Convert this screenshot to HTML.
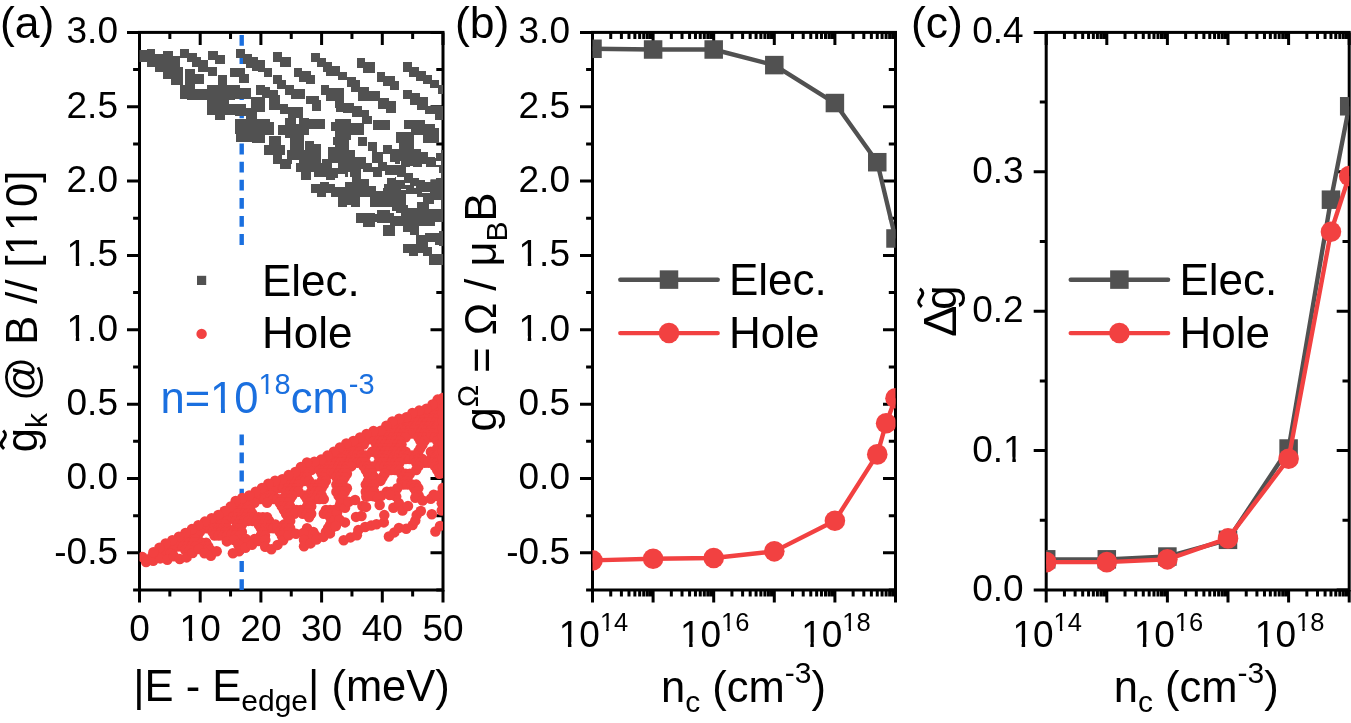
<!DOCTYPE html>
<html><head><meta charset="utf-8"><style>
html,body{margin:0;padding:0;background:#fff;}
body{width:1351px;height:723px;overflow:hidden;}
svg{display:block;will-change:transform;}
svg text{font-family:"Liberation Sans",sans-serif;font-kerning:none;font-variant-ligatures:none;}
</style></head><body>
<svg width="1351" height="723" viewBox="0 0 1351 723">
<rect width="1351" height="723" fill="#fff"/>
<defs><clipPath id="ca"><rect x="139.5" y="32.4" width="303.5" height="557.6"/></clipPath><clipPath id="cb"><rect x="592.5" y="32.4" width="303.0" height="557.6"/></clipPath><clipPath id="cc"><rect x="1046.2" y="32.4" width="303.0" height="557.6"/></clipPath></defs>
<path d="M127.00 32.40H139.50 M443.00 32.40H430.50 M127.00 106.75H139.50 M443.00 106.75H430.50 M127.00 181.09H139.50 M443.00 181.09H430.50 M127.00 255.44H139.50 M443.00 255.44H430.50 M127.00 329.79H139.50 M443.00 329.79H430.50 M127.00 404.13H139.50 M443.00 404.13H430.50 M127.00 478.48H139.50 M443.00 478.48H430.50 M127.00 552.83H139.50 M443.00 552.83H430.50 M133.10 69.57H139.50 M443.00 69.57H436.30 M133.10 143.92H139.50 M443.00 143.92H436.30 M133.10 218.27H139.50 M443.00 218.27H436.30 M133.10 292.61H139.50 M443.00 292.61H436.30 M133.10 366.96H139.50 M443.00 366.96H436.30 M133.10 441.31H139.50 M443.00 441.31H436.30 M133.10 515.65H139.50 M443.00 515.65H436.30 M133.10 590.00H139.50 M443.00 590.00H436.30 M139.50 602.50V590.00 M139.50 32.40V44.90 M200.20 602.50V590.00 M200.20 32.40V44.90 M260.90 602.50V590.00 M260.90 32.40V44.90 M321.60 602.50V590.00 M321.60 32.40V44.90 M382.30 602.50V590.00 M382.30 32.40V44.90 M443.00 602.50V590.00 M443.00 32.40V44.90 M169.85 596.40V590.00 M169.85 32.40V39.10 M230.55 596.40V590.00 M230.55 32.40V39.10 M291.25 596.40V590.00 M291.25 32.40V39.10 M351.95 596.40V590.00 M351.95 32.40V39.10 M412.65 596.40V590.00 M412.65 32.40V39.10" stroke="#000" stroke-width="3" fill="none"/>
<rect x="139.50" y="32.40" width="303.50" height="557.60" stroke="#000" stroke-width="3" fill="none"/>
<g clip-path="url(#ca)">
<path d="M241.7 35V246" stroke="#1a6fdf" stroke-width="4.4" stroke-dasharray="10.8 7.3"/>
<path d="M241.7 434.4V592" stroke="#1a6fdf" stroke-width="4.4" stroke-dasharray="10.8 7.3"/>
<g shape-rendering="crispEdges"><mask id="me0" maskUnits="userSpaceOnUse" x="0" y="0" width="1351" height="723"><rect width="1351" height="723" fill="#fff"/><g fill="#000"><rect x="194.8" y="84.4" width="12.4" height="5.0"/></g></mask>
<g fill="#515151" mask="url(#me0)"><rect x="139.6" y="49.9" width="7.1" height="12.4"/><rect x="138.3" y="50.4" width="8.3" height="12.0"/><rect x="146.6" y="49.1" width="8.7" height="17.8"/><rect x="155.3" y="53.7" width="7.9" height="18.7"/><rect x="163.2" y="51.2" width="9.5" height="28.2"/><rect x="172.8" y="56.2" width="7.1" height="10.4"/><rect x="170.7" y="66.5" width="12.0" height="18.3"/><rect x="180.2" y="84.8" width="54.8" height="10.2"/><rect x="180.2" y="49.1" width="9.1" height="9.0"/><rect x="187.3" y="53.4" width="9.5" height="9.0"/><rect x="192.3" y="57.4" width="9.1" height="9.5"/><rect x="198.1" y="59.9" width="10.0" height="11.6"/><rect x="208.0" y="67.4" width="8.7" height="8.7"/><rect x="184.8" y="69.0" width="10.0" height="15.8"/><rect x="194.8" y="74.0" width="9.1" height="9.5"/><rect x="208.0" y="50.8" width="10.0" height="9.1"/><rect x="214.7" y="54.9" width="10.0" height="9.5"/><rect x="218.0" y="75.2" width="9.1" height="9.5"/><rect x="229.6" y="67.8" width="5.4" height="8.7"/></g>
<g fill="#515151"><rect x="236.0" y="49.3" width="9.0" height="8.5"/><rect x="242.9" y="54.1" width="8.7" height="9.5"/><rect x="245.8" y="57.0" width="12.0" height="11.2"/><rect x="251.6" y="59.5" width="13.3" height="11.2"/><rect x="258.2" y="63.6" width="6.6" height="8.7"/><rect x="263.6" y="68.2" width="8.3" height="8.7"/><rect x="272.8" y="52.0" width="9.1" height="9.5"/><rect x="279.8" y="57.0" width="10.8" height="9.5"/><rect x="311.3" y="53.1" width="8.3" height="8.9"/><rect x="317.2" y="58.2" width="9.1" height="9.1"/><rect x="323.0" y="62.4" width="9.1" height="10.0"/><rect x="326.3" y="65.7" width="8.7" height="10.4"/><rect x="235.0" y="67.8" width="10.0" height="8.7"/><rect x="238.7" y="74.0" width="10.4" height="8.7"/><rect x="272.8" y="75.2" width="9.1" height="8.7"/><rect x="276.5" y="79.8" width="9.5" height="9.1"/><rect x="284.8" y="85.2" width="8.7" height="9.8"/><rect x="293.1" y="89.4" width="12.0" height="5.6"/><rect x="293.5" y="68.2" width="8.7" height="8.3"/><rect x="299.3" y="70.7" width="11.2" height="10.8"/><rect x="306.4" y="75.2" width="8.7" height="8.7"/><rect x="320.5" y="85.2" width="8.7" height="9.8"/><rect x="328.8" y="88.1" width="6.2" height="6.9"/><rect x="235.0" y="85.2" width="5.0" height="9.8"/><rect x="240.0" y="88.1" width="10.8" height="6.9"/><rect x="256.2" y="85.2" width="8.7" height="9.8"/><rect x="264.9" y="86.9" width="5.0" height="8.1"/><rect x="269.9" y="90.2" width="8.3" height="4.8"/></g>
<g fill="#515151"><rect x="356.5" y="58.3" width="8.7" height="9.6"/><rect x="363.3" y="62.4" width="11.4" height="10.5"/><rect x="376.5" y="72.4" width="8.7" height="9.1"/><rect x="382.9" y="76.1" width="11.9" height="10.0"/><rect x="389.8" y="80.6" width="9.6" height="8.9"/><rect x="402.7" y="62.4" width="8.9" height="9.1"/><rect x="409.4" y="66.5" width="9.1" height="10.5"/><rect x="415.8" y="70.6" width="10.5" height="10.5"/><rect x="423.1" y="75.2" width="8.7" height="9.1"/><rect x="429.5" y="79.7" width="9.1" height="8.7"/><rect x="438.2" y="85.2" width="4.6" height="9.1"/><rect x="335.0" y="65.6" width="5.0" height="10.5"/><rect x="338.2" y="71.5" width="8.7" height="8.7"/><rect x="346.9" y="77.4" width="9.1" height="10.0"/><rect x="351.0" y="80.2" width="9.1" height="11.4"/><rect x="358.3" y="87.0" width="10.5" height="8.7"/><rect x="366.5" y="91.1" width="13.2" height="9.9"/><rect x="379.7" y="98.0" width="9.1" height="3.0"/><rect x="335.0" y="88.4" width="9.1" height="12.6"/><rect x="403.3" y="89.6" width="8.4" height="9.3"/><rect x="409.9" y="93.4" width="9.6" height="7.6"/><rect x="419.4" y="97.1" width="8.2" height="3.9"/></g>
<mask id="me3" maskUnits="userSpaceOnUse" x="0" y="0" width="1351" height="723"><rect width="1351" height="723" fill="#fff"/><g fill="#000"><rect x="228.8" y="100.0" width="6.2" height="3.7"/></g></mask>
<g fill="#515151" mask="url(#me3)"><rect x="180.2" y="95.0" width="54.8" height="4.1"/><rect x="187.3" y="95.0" width="19.9" height="5.0"/><rect x="207.2" y="95.0" width="27.8" height="19.9"/><rect x="214.7" y="114.9" width="10.4" height="4.6"/></g>
<mask id="me4" maskUnits="userSpaceOnUse" x="0" y="0" width="1351" height="723"><rect width="1351" height="723" fill="#fff"/><g fill="#000"><rect x="296.4" y="117.8" width="2.5" height="6.2"/><rect x="274.0" y="129.9" width="4.1" height="5.8"/></g></mask>
<g fill="#515151" mask="url(#me4)"><rect x="235.0" y="95.0" width="15.8" height="3.7"/><rect x="261.6" y="95.0" width="8.3" height="2.9"/><rect x="269.0" y="95.0" width="11.2" height="14.9"/><rect x="280.2" y="104.1" width="7.9" height="10.0"/><rect x="288.1" y="106.6" width="14.5" height="13.3"/><rect x="291.4" y="95.0" width="13.3" height="3.7"/><rect x="305.5" y="96.2" width="13.3" height="7.9"/><rect x="312.2" y="100.0" width="8.3" height="10.8"/><rect x="326.3" y="95.0" width="8.7" height="5.8"/><rect x="235.0" y="104.1" width="10.8" height="11.6"/><rect x="250.8" y="97.1" width="13.7" height="14.5"/><rect x="245.8" y="107.9" width="11.6" height="11.2"/><rect x="235.0" y="119.1" width="34.9" height="14.9"/><rect x="235.8" y="132.3" width="15.8" height="10.0"/><rect x="251.6" y="134.0" width="13.3" height="8.7"/><rect x="257.8" y="122.4" width="16.2" height="12.4"/><rect x="284.8" y="118.2" width="24.1" height="16.6"/><rect x="278.2" y="124.9" width="6.6" height="10.0"/><rect x="308.0" y="119.1" width="17.0" height="10.0"/><rect x="284.8" y="134.8" width="19.1" height="3.3"/><rect x="290.2" y="138.2" width="13.7" height="14.1"/><rect x="269.0" y="135.7" width="11.6" height="9.1"/><rect x="263.6" y="144.8" width="21.2" height="10.2"/><rect x="287.3" y="149.8" width="17.4" height="5.2"/><rect x="304.7" y="140.6" width="9.1" height="14.4"/><rect x="313.8" y="143.5" width="7.1" height="11.5"/><rect x="331.3" y="122.0" width="3.7" height="8.7"/><rect x="332.9" y="136.5" width="2.1" height="8.3"/><rect x="327.9" y="146.5" width="7.1" height="8.5"/></g>
<g fill="#515151"><rect x="335.0" y="95.0" width="9.1" height="12.8"/><rect x="335.9" y="103.2" width="18.3" height="9.1"/><rect x="343.2" y="106.4" width="19.2" height="6.8"/><rect x="351.9" y="109.6" width="16.9" height="7.8"/><rect x="362.4" y="115.5" width="9.6" height="8.2"/><rect x="358.3" y="95.0" width="21.5" height="6.4"/><rect x="377.9" y="99.1" width="11.0" height="9.6"/><rect x="386.1" y="101.4" width="9.6" height="11.4"/><rect x="372.9" y="120.1" width="16.9" height="9.6"/><rect x="403.0" y="95.0" width="16.0" height="3.7"/><rect x="409.9" y="96.8" width="17.8" height="8.2"/><rect x="417.2" y="104.1" width="11.0" height="5.5"/><rect x="425.4" y="106.0" width="17.3" height="8.2"/><rect x="435.4" y="109.6" width="7.3" height="10.0"/><rect x="403.9" y="119.6" width="21.5" height="9.1"/><rect x="410.8" y="124.2" width="23.7" height="11.0"/><rect x="422.6" y="127.9" width="16.4" height="14.6"/><rect x="430.9" y="134.3" width="8.2" height="9.1"/><rect x="335.0" y="118.7" width="16.4" height="21.0"/><rect x="351.4" y="123.3" width="12.8" height="11.4"/><rect x="335.0" y="139.7" width="13.7" height="10.0"/><rect x="335.0" y="149.8" width="19.6" height="11.2"/><rect x="354.6" y="157.1" width="11.4" height="3.9"/><rect x="358.3" y="137.0" width="8.2" height="8.7"/><rect x="368.3" y="142.0" width="8.5" height="8.7"/><rect x="372.4" y="152.1" width="9.6" height="8.9"/><rect x="396.2" y="132.4" width="17.8" height="10.5"/><rect x="399.4" y="142.9" width="14.6" height="6.8"/><rect x="383.4" y="144.8" width="8.7" height="8.7"/><rect x="390.7" y="148.9" width="30.1" height="12.1"/><rect x="420.8" y="151.6" width="6.8" height="9.4"/><rect x="427.7" y="157.1" width="6.8" height="3.9"/><rect x="436.3" y="152.5" width="6.4" height="8.5"/></g>
<mask id="me6" maskUnits="userSpaceOnUse" x="0" y="0" width="1351" height="723"><rect width="1351" height="723" fill="#fff"/><g fill="#000"><rect x="281.5" y="155.0" width="5.8" height="3.7"/><rect x="292.3" y="160.0" width="6.6" height="3.3"/><rect x="321.3" y="155.0" width="6.6" height="4.1"/><rect x="332.1" y="162.9" width="2.9" height="5.0"/></g></mask>
<g fill="#515151" mask="url(#me6)"><rect x="272.8" y="155.0" width="18.7" height="9.1"/><rect x="279.8" y="160.0" width="10.8" height="8.7"/><rect x="286.5" y="155.0" width="34.9" height="5.0"/><rect x="296.4" y="160.0" width="24.9" height="12.4"/><rect x="300.6" y="172.4" width="10.4" height="7.5"/><rect x="314.3" y="167.4" width="20.7" height="9.1"/><rect x="314.3" y="162.5" width="20.7" height="5.8"/><rect x="322.1" y="159.1" width="12.9" height="3.7"/><rect x="326.3" y="176.6" width="8.7" height="2.9"/><rect x="327.9" y="155.0" width="7.1" height="4.1"/><rect x="310.9" y="183.6" width="24.1" height="9.1"/><rect x="317.2" y="192.8" width="9.1" height="4.1"/><rect x="331.3" y="192.8" width="3.7" height="4.1"/><rect x="319.6" y="182.0" width="9.1" height="1.7"/></g>
<mask id="me7" maskUnits="userSpaceOnUse" x="0" y="0" width="1351" height="723"><rect width="1351" height="723" fill="#fff"/><g fill="#000"><rect x="345.0" y="150.0" width="9.3" height="1.2"/><rect x="354.3" y="150.0" width="13.7" height="6.8"/><rect x="364.3" y="156.2" width="8.1" height="3.1"/><rect x="366.1" y="159.3" width="6.2" height="3.4"/><rect x="368.0" y="150.6" width="4.4" height="5.6"/><rect x="376.7" y="150.0" width="6.2" height="2.2"/><rect x="382.9" y="153.7" width="7.5" height="8.7"/><rect x="387.3" y="162.1" width="7.5" height="3.1"/><rect x="372.3" y="162.8" width="5.6" height="4.4"/><rect x="335.0" y="163.1" width="2.8" height="5.0"/><rect x="335.0" y="178.3" width="10.3" height="8.4"/><rect x="337.8" y="174.0" width="7.5" height="4.4"/><rect x="345.3" y="176.8" width="6.5" height="5.3"/><rect x="348.1" y="172.1" width="1.9" height="4.7"/><rect x="361.1" y="168.7" width="2.2" height="10.6"/><rect x="363.3" y="172.1" width="9.6" height="7.2"/><rect x="373.0" y="176.8" width="14.3" height="6.8"/><rect x="368.6" y="179.3" width="7.5" height="6.8"/><rect x="376.1" y="183.6" width="7.5" height="6.8"/><rect x="381.7" y="171.2" width="3.7" height="6.2"/><rect x="384.8" y="174.9" width="10.2" height="3.1"/></g></mask>
<g fill="#515151" mask="url(#me7)"><rect x="335.0" y="150.0" width="60.0" height="38.0"/></g>
<mask id="me8" maskUnits="userSpaceOnUse" x="0" y="0" width="1351" height="723"><rect width="1351" height="723" fill="#fff"/><g fill="#000"><rect x="415.0" y="150.0" width="5.8" height="0.9"/><rect x="420.8" y="150.0" width="7.0" height="4.4"/><rect x="427.8" y="150.0" width="8.1" height="8.1"/><rect x="435.9" y="150.0" width="5.2" height="2.6"/><rect x="390.0" y="163.8" width="11.0" height="1.4"/><rect x="400.0" y="160.2" width="1.3" height="5.1"/><rect x="409.8" y="166.3" width="3.2" height="3.5"/><rect x="422.0" y="163.9" width="3.5" height="3.5"/><rect x="406.3" y="167.4" width="32.5" height="5.8"/><rect x="412.7" y="173.2" width="27.9" height="5.2"/><rect x="419.3" y="177.3" width="17.1" height="2.9"/><rect x="425.4" y="179.0" width="5.2" height="2.9"/><rect x="435.9" y="161.3" width="5.2" height="3.5"/><rect x="390.0" y="175.0" width="7.0" height="2.3"/><rect x="396.4" y="177.3" width="7.6" height="2.3"/><rect x="405.1" y="182.8" width="5.2" height="2.0"/><rect x="414.4" y="186.0" width="2.0" height="2.3"/></g></mask>
<g fill="#515151" mask="url(#me8)"><rect x="395.0" y="150.0" width="51.0" height="38.0"/></g>
<mask id="me9" maskUnits="userSpaceOnUse" x="0" y="0" width="1351" height="723"><rect width="1351" height="723" fill="#fff"/><g fill="#000"><rect x="376.1" y="188.0" width="6.6" height="2.5"/><rect x="400.7" y="188.8" width="4.9" height="1.6"/><rect x="406.1" y="193.8" width="11.1" height="14.0"/><rect x="417.2" y="197.0" width="5.3" height="5.3"/><rect x="346.5" y="204.8" width="4.5" height="2.5"/><rect x="433.6" y="199.5" width="7.4" height="9.9"/><rect x="428.7" y="204.4" width="4.9" height="4.1"/><rect x="422.1" y="191.7" width="8.2" height="1.6"/></g></mask>
<g fill="#515151" mask="url(#me9)"><rect x="335.0" y="188.0" width="107.6" height="9.0"/><rect x="337.9" y="197.0" width="21.8" height="10.3"/><rect x="369.5" y="196.2" width="36.6" height="10.7"/><rect x="376.5" y="209.5" width="11.9" height="3.5"/><rect x="395.8" y="206.9" width="46.8" height="6.1"/><rect x="417.2" y="202.4" width="25.5" height="4.5"/><rect x="422.5" y="197.0" width="20.1" height="5.3"/></g>
<mask id="me10" maskUnits="userSpaceOnUse" x="0" y="0" width="1351" height="723"><rect width="1351" height="723" fill="#fff"/><g fill="#000"><rect x="346.8" y="205.0" width="4.1" height="2.5"/></g></mask>
<g fill="#515151" mask="url(#me10)"><rect x="338.1" y="200.0" width="22.0" height="7.1"/><rect x="372.1" y="200.0" width="2.9" height="7.1"/><rect x="356.3" y="213.3" width="9.1" height="9.5"/><rect x="363.0" y="215.8" width="12.0" height="10.8"/><rect x="371.3" y="213.3" width="3.7" height="3.3"/></g>
<mask id="me11" maskUnits="userSpaceOnUse" x="0" y="0" width="1351" height="723"><rect width="1351" height="723" fill="#fff"/><g fill="#000"><rect x="419.4" y="226.0" width="5.9" height="9.1"/><rect x="428.1" y="241.5" width="7.3" height="5.5"/><rect x="431.8" y="247.0" width="9.1" height="6.4"/><rect x="394.3" y="212.3" width="6.4" height="4.1"/></g></mask>
<g fill="#515151" mask="url(#me11)"><rect x="338.2" y="205.0" width="8.7" height="2.3"/><rect x="351.0" y="205.0" width="9.1" height="2.3"/><rect x="372.4" y="205.0" width="17.3" height="2.3"/><rect x="391.6" y="205.0" width="16.4" height="5.5"/><rect x="417.2" y="205.0" width="11.9" height="5.5"/><rect x="356.5" y="213.2" width="18.7" height="9.6"/><rect x="363.3" y="219.6" width="11.4" height="6.8"/><rect x="376.5" y="209.6" width="13.2" height="13.2"/><rect x="371.1" y="213.7" width="11.4" height="8.7"/><rect x="389.8" y="213.2" width="45.6" height="12.8"/><rect x="396.2" y="207.7" width="32.9" height="5.5"/><rect x="435.4" y="210.5" width="7.3" height="11.9"/><rect x="382.9" y="225.1" width="11.9" height="11.0"/><rect x="403.0" y="224.2" width="16.4" height="8.2"/><rect x="410.3" y="228.7" width="9.1" height="6.4"/><rect x="425.4" y="232.8" width="13.7" height="2.3"/><rect x="439.1" y="230.6" width="3.7" height="15.5"/><rect x="416.2" y="235.1" width="26.5" height="10.0"/><rect x="402.6" y="244.3" width="20.1" height="9.1"/><rect x="409.4" y="250.6" width="8.7" height="5.5"/><rect x="422.6" y="241.5" width="9.1" height="14.6"/><rect x="429.0" y="254.3" width="13.7" height="10.5"/></g></g>
<g fill="#f24141"><circle cx="437.2" cy="404.5" r="5.25"/><circle cx="435.1" cy="408.2" r="5.25"/><circle cx="439.3" cy="408.2" r="5.25"/><circle cx="428.8" cy="411.8" r="5.25"/><circle cx="433.0" cy="411.8" r="5.25"/><circle cx="437.2" cy="411.8" r="5.25"/><circle cx="418.3" cy="415.5" r="5.25"/><circle cx="422.5" cy="415.5" r="5.25"/><circle cx="426.7" cy="415.5" r="5.25"/><circle cx="430.9" cy="415.5" r="5.25"/><circle cx="435.1" cy="415.5" r="5.25"/><circle cx="439.3" cy="415.5" r="5.25"/><circle cx="412.0" cy="419.1" r="5.25"/><circle cx="416.2" cy="419.1" r="5.25"/><circle cx="420.4" cy="419.1" r="5.25"/><circle cx="424.6" cy="419.1" r="5.25"/><circle cx="428.8" cy="419.1" r="5.25"/><circle cx="433.0" cy="419.1" r="5.25"/><circle cx="437.2" cy="419.1" r="5.25"/><circle cx="397.3" cy="422.7" r="5.25"/><circle cx="401.5" cy="422.7" r="5.25"/><circle cx="405.7" cy="422.7" r="5.25"/><circle cx="409.9" cy="422.7" r="5.25"/><circle cx="414.1" cy="422.7" r="5.25"/><circle cx="418.3" cy="422.7" r="5.25"/><circle cx="422.5" cy="422.7" r="5.25"/><circle cx="426.7" cy="422.7" r="5.25"/><circle cx="430.9" cy="422.7" r="5.25"/><circle cx="435.1" cy="422.7" r="5.25"/><circle cx="439.3" cy="422.7" r="5.25"/><circle cx="391.0" cy="426.4" r="5.25"/><circle cx="395.2" cy="426.4" r="5.25"/><circle cx="399.4" cy="426.4" r="5.25"/><circle cx="403.6" cy="426.4" r="5.25"/><circle cx="407.8" cy="426.4" r="5.25"/><circle cx="412.0" cy="426.4" r="5.25"/><circle cx="416.2" cy="426.4" r="5.25"/><circle cx="420.4" cy="426.4" r="5.25"/><circle cx="424.6" cy="426.4" r="5.25"/><circle cx="428.8" cy="426.4" r="5.25"/><circle cx="433.0" cy="426.4" r="5.25"/><circle cx="437.2" cy="426.4" r="5.25"/><circle cx="388.9" cy="430.0" r="5.25"/><circle cx="393.1" cy="430.0" r="5.25"/><circle cx="397.3" cy="430.0" r="5.25"/><circle cx="401.5" cy="430.0" r="5.25"/><circle cx="405.7" cy="430.0" r="5.25"/><circle cx="409.9" cy="430.0" r="5.25"/><circle cx="414.1" cy="430.0" r="5.25"/><circle cx="418.3" cy="430.0" r="5.25"/><circle cx="422.5" cy="430.0" r="5.25"/><circle cx="426.7" cy="430.0" r="5.25"/><circle cx="430.9" cy="430.0" r="5.25"/><circle cx="435.1" cy="430.0" r="5.25"/><circle cx="439.3" cy="430.0" r="5.25"/><circle cx="382.6" cy="433.6" r="5.25"/><circle cx="386.8" cy="433.6" r="5.25"/><circle cx="391.0" cy="433.6" r="5.25"/><circle cx="395.2" cy="433.6" r="5.25"/><circle cx="399.4" cy="433.6" r="5.25"/><circle cx="403.6" cy="433.6" r="5.25"/><circle cx="407.8" cy="433.6" r="5.25"/><circle cx="412.0" cy="433.6" r="5.25"/><circle cx="416.2" cy="433.6" r="5.25"/><circle cx="420.4" cy="433.6" r="5.25"/><circle cx="424.6" cy="433.6" r="5.25"/><circle cx="428.8" cy="433.6" r="5.25"/><circle cx="433.0" cy="433.6" r="5.25"/><circle cx="437.2" cy="433.6" r="5.25"/><circle cx="367.9" cy="437.3" r="5.25"/><circle cx="372.1" cy="437.3" r="5.25"/><circle cx="376.3" cy="437.3" r="5.25"/><circle cx="380.5" cy="437.3" r="5.25"/><circle cx="384.7" cy="437.3" r="5.25"/><circle cx="388.9" cy="437.3" r="5.25"/><circle cx="393.1" cy="437.3" r="5.25"/><circle cx="397.3" cy="437.3" r="5.25"/><circle cx="401.5" cy="437.3" r="5.25"/><circle cx="405.7" cy="437.3" r="5.25"/><circle cx="418.3" cy="437.3" r="5.25"/><circle cx="422.5" cy="437.3" r="5.25"/><circle cx="426.7" cy="437.3" r="5.25"/><circle cx="430.9" cy="437.3" r="5.25"/><circle cx="435.1" cy="437.3" r="5.25"/><circle cx="439.3" cy="437.3" r="5.25"/><circle cx="361.6" cy="440.9" r="5.25"/><circle cx="365.8" cy="440.9" r="5.25"/><circle cx="374.2" cy="440.9" r="5.25"/><circle cx="378.4" cy="440.9" r="5.25"/><circle cx="382.6" cy="440.9" r="5.25"/><circle cx="386.8" cy="440.9" r="5.25"/><circle cx="391.0" cy="440.9" r="5.25"/><circle cx="395.2" cy="440.9" r="5.25"/><circle cx="399.4" cy="440.9" r="5.25"/><circle cx="420.4" cy="440.9" r="5.25"/><circle cx="424.6" cy="440.9" r="5.25"/><circle cx="437.2" cy="440.9" r="5.25"/><circle cx="355.3" cy="444.6" r="5.25"/><circle cx="359.5" cy="444.6" r="5.25"/><circle cx="363.7" cy="444.6" r="5.25"/><circle cx="376.3" cy="444.6" r="5.25"/><circle cx="380.5" cy="444.6" r="5.25"/><circle cx="384.7" cy="444.6" r="5.25"/><circle cx="388.9" cy="444.6" r="5.25"/><circle cx="393.1" cy="444.6" r="5.25"/><circle cx="397.3" cy="444.6" r="5.25"/><circle cx="401.5" cy="444.6" r="5.25"/><circle cx="422.5" cy="444.6" r="5.25"/><circle cx="439.3" cy="444.6" r="5.25"/><circle cx="344.8" cy="448.2" r="5.25"/><circle cx="349.0" cy="448.2" r="5.25"/><circle cx="353.2" cy="448.2" r="5.25"/><circle cx="357.4" cy="448.2" r="5.25"/><circle cx="378.4" cy="448.2" r="5.25"/><circle cx="382.6" cy="448.2" r="5.25"/><circle cx="386.8" cy="448.2" r="5.25"/><circle cx="391.0" cy="448.2" r="5.25"/><circle cx="395.2" cy="448.2" r="5.25"/><circle cx="399.4" cy="448.2" r="5.25"/><circle cx="420.4" cy="448.2" r="5.25"/><circle cx="437.2" cy="448.2" r="5.25"/><circle cx="342.7" cy="451.8" r="5.25"/><circle cx="346.9" cy="451.8" r="5.25"/><circle cx="351.1" cy="451.8" r="5.25"/><circle cx="355.3" cy="451.8" r="5.25"/><circle cx="359.5" cy="451.8" r="5.25"/><circle cx="372.1" cy="451.8" r="5.25"/><circle cx="376.3" cy="451.8" r="5.25"/><circle cx="380.5" cy="451.8" r="5.25"/><circle cx="384.7" cy="451.8" r="5.25"/><circle cx="388.9" cy="451.8" r="5.25"/><circle cx="393.1" cy="451.8" r="5.25"/><circle cx="397.3" cy="451.8" r="5.25"/><circle cx="401.5" cy="451.8" r="5.25"/><circle cx="405.7" cy="451.8" r="5.25"/><circle cx="418.3" cy="451.8" r="5.25"/><circle cx="430.9" cy="451.8" r="5.25"/><circle cx="435.1" cy="451.8" r="5.25"/><circle cx="439.3" cy="451.8" r="5.25"/><circle cx="336.4" cy="455.5" r="5.25"/><circle cx="340.6" cy="455.5" r="5.25"/><circle cx="344.8" cy="455.5" r="5.25"/><circle cx="349.0" cy="455.5" r="5.25"/><circle cx="353.2" cy="455.5" r="5.25"/><circle cx="357.4" cy="455.5" r="5.25"/><circle cx="361.6" cy="455.5" r="5.25"/><circle cx="365.8" cy="455.5" r="5.25"/><circle cx="378.4" cy="455.5" r="5.25"/><circle cx="382.6" cy="455.5" r="5.25"/><circle cx="386.8" cy="455.5" r="5.25"/><circle cx="391.0" cy="455.5" r="5.25"/><circle cx="395.2" cy="455.5" r="5.25"/><circle cx="399.4" cy="455.5" r="5.25"/><circle cx="403.6" cy="455.5" r="5.25"/><circle cx="407.8" cy="455.5" r="5.25"/><circle cx="412.0" cy="455.5" r="5.25"/><circle cx="416.2" cy="455.5" r="5.25"/><circle cx="433.0" cy="455.5" r="5.25"/><circle cx="437.2" cy="455.5" r="5.25"/><circle cx="330.1" cy="459.1" r="5.25"/><circle cx="334.3" cy="459.1" r="5.25"/><circle cx="338.5" cy="459.1" r="5.25"/><circle cx="342.7" cy="459.1" r="5.25"/><circle cx="346.9" cy="459.1" r="5.25"/><circle cx="351.1" cy="459.1" r="5.25"/><circle cx="355.3" cy="459.1" r="5.25"/><circle cx="359.5" cy="459.1" r="5.25"/><circle cx="363.7" cy="459.1" r="5.25"/><circle cx="380.5" cy="459.1" r="5.25"/><circle cx="384.7" cy="459.1" r="5.25"/><circle cx="388.9" cy="459.1" r="5.25"/><circle cx="393.1" cy="459.1" r="5.25"/><circle cx="397.3" cy="459.1" r="5.25"/><circle cx="401.5" cy="459.1" r="5.25"/><circle cx="405.7" cy="459.1" r="5.25"/><circle cx="409.9" cy="459.1" r="5.25"/><circle cx="414.1" cy="459.1" r="5.25"/><circle cx="418.3" cy="459.1" r="5.25"/><circle cx="422.5" cy="459.1" r="5.25"/><circle cx="430.9" cy="459.1" r="5.25"/><circle cx="435.1" cy="459.1" r="5.25"/><circle cx="439.3" cy="459.1" r="5.25"/><circle cx="323.8" cy="462.7" r="5.25"/><circle cx="328.0" cy="462.7" r="5.25"/><circle cx="332.2" cy="462.7" r="5.25"/><circle cx="336.4" cy="462.7" r="5.25"/><circle cx="340.6" cy="462.7" r="5.25"/><circle cx="344.8" cy="462.7" r="5.25"/><circle cx="349.0" cy="462.7" r="5.25"/><circle cx="353.2" cy="462.7" r="5.25"/><circle cx="357.4" cy="462.7" r="5.25"/><circle cx="361.6" cy="462.7" r="5.25"/><circle cx="365.8" cy="462.7" r="5.25"/><circle cx="378.4" cy="462.7" r="5.25"/><circle cx="382.6" cy="462.7" r="5.25"/><circle cx="386.8" cy="462.7" r="5.25"/><circle cx="391.0" cy="462.7" r="5.25"/><circle cx="395.2" cy="462.7" r="5.25"/><circle cx="399.4" cy="462.7" r="5.25"/><circle cx="416.2" cy="462.7" r="5.25"/><circle cx="420.4" cy="462.7" r="5.25"/><circle cx="424.6" cy="462.7" r="5.25"/><circle cx="428.8" cy="462.7" r="5.25"/><circle cx="433.0" cy="462.7" r="5.25"/><circle cx="437.2" cy="462.7" r="5.25"/><circle cx="309.1" cy="466.4" r="5.25"/><circle cx="313.3" cy="466.4" r="5.25"/><circle cx="317.5" cy="466.4" r="5.25"/><circle cx="321.7" cy="466.4" r="5.25"/><circle cx="325.9" cy="466.4" r="5.25"/><circle cx="330.1" cy="466.4" r="5.25"/><circle cx="334.3" cy="466.4" r="5.25"/><circle cx="338.5" cy="466.4" r="5.25"/><circle cx="342.7" cy="466.4" r="5.25"/><circle cx="346.9" cy="466.4" r="5.25"/><circle cx="351.1" cy="466.4" r="5.25"/><circle cx="363.7" cy="466.4" r="5.25"/><circle cx="367.9" cy="466.4" r="5.25"/><circle cx="372.1" cy="466.4" r="5.25"/><circle cx="376.3" cy="466.4" r="5.25"/><circle cx="380.5" cy="466.4" r="5.25"/><circle cx="384.7" cy="466.4" r="5.25"/><circle cx="388.9" cy="466.4" r="5.25"/><circle cx="393.1" cy="466.4" r="5.25"/><circle cx="397.3" cy="466.4" r="5.25"/><circle cx="418.3" cy="466.4" r="5.25"/><circle cx="435.1" cy="466.4" r="5.25"/><circle cx="439.3" cy="466.4" r="5.25"/><circle cx="302.8" cy="470.0" r="5.25"/><circle cx="307.0" cy="470.0" r="5.25"/><circle cx="311.2" cy="470.0" r="5.25"/><circle cx="319.6" cy="470.0" r="5.25"/><circle cx="323.8" cy="470.0" r="5.25"/><circle cx="328.0" cy="470.0" r="5.25"/><circle cx="332.2" cy="470.0" r="5.25"/><circle cx="336.4" cy="470.0" r="5.25"/><circle cx="340.6" cy="470.0" r="5.25"/><circle cx="344.8" cy="470.0" r="5.25"/><circle cx="365.8" cy="470.0" r="5.25"/><circle cx="370.0" cy="470.0" r="5.25"/><circle cx="386.8" cy="470.0" r="5.25"/><circle cx="391.0" cy="470.0" r="5.25"/><circle cx="395.2" cy="470.0" r="5.25"/><circle cx="399.4" cy="470.0" r="5.25"/><circle cx="416.2" cy="470.0" r="5.25"/><circle cx="437.2" cy="470.0" r="5.25"/><circle cx="300.7" cy="473.7" r="5.25"/><circle cx="304.9" cy="473.7" r="5.25"/><circle cx="321.7" cy="473.7" r="5.25"/><circle cx="325.9" cy="473.7" r="5.25"/><circle cx="330.1" cy="473.7" r="5.25"/><circle cx="334.3" cy="473.7" r="5.25"/><circle cx="338.5" cy="473.7" r="5.25"/><circle cx="342.7" cy="473.7" r="5.25"/><circle cx="346.9" cy="473.7" r="5.25"/><circle cx="367.9" cy="473.7" r="5.25"/><circle cx="372.1" cy="473.7" r="5.25"/><circle cx="384.7" cy="473.7" r="5.25"/><circle cx="401.5" cy="473.7" r="5.25"/><circle cx="405.7" cy="473.7" r="5.25"/><circle cx="409.9" cy="473.7" r="5.25"/><circle cx="439.3" cy="473.7" r="5.25"/><circle cx="294.4" cy="477.3" r="5.25"/><circle cx="298.6" cy="477.3" r="5.25"/><circle cx="302.8" cy="477.3" r="5.25"/><circle cx="307.0" cy="477.3" r="5.25"/><circle cx="323.8" cy="477.3" r="5.25"/><circle cx="336.4" cy="477.3" r="5.25"/><circle cx="340.6" cy="477.3" r="5.25"/><circle cx="344.8" cy="477.3" r="5.25"/><circle cx="370.0" cy="477.3" r="5.25"/><circle cx="374.2" cy="477.3" r="5.25"/><circle cx="382.6" cy="477.3" r="5.25"/><circle cx="403.6" cy="477.3" r="5.25"/><circle cx="407.8" cy="477.3" r="5.25"/><circle cx="288.1" cy="480.9" r="5.25"/><circle cx="292.3" cy="480.9" r="5.25"/><circle cx="296.5" cy="480.9" r="5.25"/><circle cx="300.7" cy="480.9" r="5.25"/><circle cx="304.9" cy="480.9" r="5.25"/><circle cx="309.1" cy="480.9" r="5.25"/><circle cx="321.7" cy="480.9" r="5.25"/><circle cx="325.9" cy="480.9" r="5.25"/><circle cx="338.5" cy="480.9" r="5.25"/><circle cx="342.7" cy="480.9" r="5.25"/><circle cx="367.9" cy="480.9" r="5.25"/><circle cx="372.1" cy="480.9" r="5.25"/><circle cx="376.3" cy="480.9" r="5.25"/><circle cx="380.5" cy="480.9" r="5.25"/><circle cx="401.5" cy="480.9" r="5.25"/><circle cx="405.7" cy="480.9" r="5.25"/><circle cx="277.6" cy="484.6" r="5.25"/><circle cx="281.8" cy="484.6" r="5.25"/><circle cx="286.0" cy="484.6" r="5.25"/><circle cx="290.2" cy="484.6" r="5.25"/><circle cx="294.4" cy="484.6" r="5.25"/><circle cx="298.6" cy="484.6" r="5.25"/><circle cx="311.2" cy="484.6" r="5.25"/><circle cx="315.4" cy="484.6" r="5.25"/><circle cx="319.6" cy="484.6" r="5.25"/><circle cx="323.8" cy="484.6" r="5.25"/><circle cx="336.4" cy="484.6" r="5.25"/><circle cx="340.6" cy="484.6" r="5.25"/><circle cx="365.8" cy="484.6" r="5.25"/><circle cx="370.0" cy="484.6" r="5.25"/><circle cx="374.2" cy="484.6" r="5.25"/><circle cx="403.6" cy="484.6" r="5.25"/><circle cx="407.8" cy="484.6" r="5.25"/><circle cx="412.0" cy="484.6" r="5.25"/><circle cx="416.2" cy="484.6" r="5.25"/><circle cx="271.3" cy="488.2" r="5.25"/><circle cx="275.5" cy="488.2" r="5.25"/><circle cx="279.7" cy="488.2" r="5.25"/><circle cx="283.9" cy="488.2" r="5.25"/><circle cx="288.1" cy="488.2" r="5.25"/><circle cx="292.3" cy="488.2" r="5.25"/><circle cx="296.5" cy="488.2" r="5.25"/><circle cx="313.3" cy="488.2" r="5.25"/><circle cx="317.5" cy="488.2" r="5.25"/><circle cx="321.7" cy="488.2" r="5.25"/><circle cx="338.5" cy="488.2" r="5.25"/><circle cx="342.7" cy="488.2" r="5.25"/><circle cx="346.9" cy="488.2" r="5.25"/><circle cx="367.9" cy="488.2" r="5.25"/><circle cx="372.1" cy="488.2" r="5.25"/><circle cx="397.3" cy="488.2" r="5.25"/><circle cx="414.1" cy="488.2" r="5.25"/><circle cx="418.3" cy="488.2" r="5.25"/><circle cx="265.0" cy="491.8" r="5.25"/><circle cx="269.2" cy="491.8" r="5.25"/><circle cx="273.4" cy="491.8" r="5.25"/><circle cx="286.0" cy="491.8" r="5.25"/><circle cx="290.2" cy="491.8" r="5.25"/><circle cx="294.4" cy="491.8" r="5.25"/><circle cx="298.6" cy="491.8" r="5.25"/><circle cx="311.2" cy="491.8" r="5.25"/><circle cx="315.4" cy="491.8" r="5.25"/><circle cx="319.6" cy="491.8" r="5.25"/><circle cx="336.4" cy="491.8" r="5.25"/><circle cx="340.6" cy="491.8" r="5.25"/><circle cx="344.8" cy="491.8" r="5.25"/><circle cx="365.8" cy="491.8" r="5.25"/><circle cx="370.0" cy="491.8" r="5.25"/><circle cx="374.2" cy="491.8" r="5.25"/><circle cx="386.8" cy="491.8" r="5.25"/><circle cx="391.0" cy="491.8" r="5.25"/><circle cx="395.2" cy="491.8" r="5.25"/><circle cx="416.2" cy="491.8" r="5.25"/><circle cx="258.7" cy="495.5" r="5.25"/><circle cx="262.9" cy="495.5" r="5.25"/><circle cx="267.1" cy="495.5" r="5.25"/><circle cx="271.3" cy="495.5" r="5.25"/><circle cx="288.1" cy="495.5" r="5.25"/><circle cx="292.3" cy="495.5" r="5.25"/><circle cx="304.9" cy="495.5" r="5.25"/><circle cx="309.1" cy="495.5" r="5.25"/><circle cx="313.3" cy="495.5" r="5.25"/><circle cx="317.5" cy="495.5" r="5.25"/><circle cx="321.7" cy="495.5" r="5.25"/><circle cx="338.5" cy="495.5" r="5.25"/><circle cx="342.7" cy="495.5" r="5.25"/><circle cx="252.4" cy="499.1" r="5.25"/><circle cx="256.6" cy="499.1" r="5.25"/><circle cx="260.8" cy="499.1" r="5.25"/><circle cx="265.0" cy="499.1" r="5.25"/><circle cx="269.2" cy="499.1" r="5.25"/><circle cx="273.4" cy="499.1" r="5.25"/><circle cx="277.6" cy="499.1" r="5.25"/><circle cx="281.8" cy="499.1" r="5.25"/><circle cx="286.0" cy="499.1" r="5.25"/><circle cx="290.2" cy="499.1" r="5.25"/><circle cx="307.0" cy="499.1" r="5.25"/><circle cx="311.2" cy="499.1" r="5.25"/><circle cx="315.4" cy="499.1" r="5.25"/><circle cx="319.6" cy="499.1" r="5.25"/><circle cx="323.8" cy="499.1" r="5.25"/><circle cx="340.6" cy="499.1" r="5.25"/><circle cx="241.9" cy="502.8" r="5.25"/><circle cx="246.1" cy="502.8" r="5.25"/><circle cx="250.3" cy="502.8" r="5.25"/><circle cx="254.5" cy="502.8" r="5.25"/><circle cx="267.1" cy="502.8" r="5.25"/><circle cx="279.7" cy="502.8" r="5.25"/><circle cx="283.9" cy="502.8" r="5.25"/><circle cx="288.1" cy="502.8" r="5.25"/><circle cx="309.1" cy="502.8" r="5.25"/><circle cx="235.6" cy="506.4" r="5.25"/><circle cx="239.8" cy="506.4" r="5.25"/><circle cx="244.0" cy="506.4" r="5.25"/><circle cx="248.2" cy="506.4" r="5.25"/><circle cx="281.8" cy="506.4" r="5.25"/><circle cx="286.0" cy="506.4" r="5.25"/><circle cx="290.2" cy="506.4" r="5.25"/><circle cx="307.0" cy="506.4" r="5.25"/><circle cx="311.2" cy="506.4" r="5.25"/><circle cx="233.5" cy="510.0" r="5.25"/><circle cx="237.7" cy="510.0" r="5.25"/><circle cx="241.9" cy="510.0" r="5.25"/><circle cx="246.1" cy="510.0" r="5.25"/><circle cx="250.3" cy="510.0" r="5.25"/><circle cx="283.9" cy="510.0" r="5.25"/><circle cx="288.1" cy="510.0" r="5.25"/><circle cx="292.3" cy="510.0" r="5.25"/><circle cx="296.5" cy="510.0" r="5.25"/><circle cx="300.7" cy="510.0" r="5.25"/><circle cx="304.9" cy="510.0" r="5.25"/><circle cx="309.1" cy="510.0" r="5.25"/><circle cx="325.9" cy="510.0" r="5.25"/><circle cx="330.1" cy="510.0" r="5.25"/><circle cx="334.3" cy="510.0" r="5.25"/><circle cx="227.2" cy="513.7" r="5.25"/><circle cx="231.4" cy="513.7" r="5.25"/><circle cx="235.6" cy="513.7" r="5.25"/><circle cx="239.8" cy="513.7" r="5.25"/><circle cx="244.0" cy="513.7" r="5.25"/><circle cx="248.2" cy="513.7" r="5.25"/><circle cx="252.4" cy="513.7" r="5.25"/><circle cx="286.0" cy="513.7" r="5.25"/><circle cx="290.2" cy="513.7" r="5.25"/><circle cx="294.4" cy="513.7" r="5.25"/><circle cx="302.8" cy="513.7" r="5.25"/><circle cx="307.0" cy="513.7" r="5.25"/><circle cx="311.2" cy="513.7" r="5.25"/><circle cx="323.8" cy="513.7" r="5.25"/><circle cx="328.0" cy="513.7" r="5.25"/><circle cx="332.2" cy="513.7" r="5.25"/><circle cx="220.9" cy="517.3" r="5.25"/><circle cx="225.1" cy="517.3" r="5.25"/><circle cx="229.3" cy="517.3" r="5.25"/><circle cx="233.5" cy="517.3" r="5.25"/><circle cx="237.7" cy="517.3" r="5.25"/><circle cx="241.9" cy="517.3" r="5.25"/><circle cx="246.1" cy="517.3" r="5.25"/><circle cx="250.3" cy="517.3" r="5.25"/><circle cx="254.5" cy="517.3" r="5.25"/><circle cx="258.7" cy="517.3" r="5.25"/><circle cx="262.9" cy="517.3" r="5.25"/><circle cx="267.1" cy="517.3" r="5.25"/><circle cx="288.1" cy="517.3" r="5.25"/><circle cx="309.1" cy="517.3" r="5.25"/><circle cx="330.1" cy="517.3" r="5.25"/><circle cx="214.6" cy="520.9" r="5.25"/><circle cx="218.8" cy="520.9" r="5.25"/><circle cx="223.0" cy="520.9" r="5.25"/><circle cx="227.2" cy="520.9" r="5.25"/><circle cx="235.6" cy="520.9" r="5.25"/><circle cx="239.8" cy="520.9" r="5.25"/><circle cx="244.0" cy="520.9" r="5.25"/><circle cx="248.2" cy="520.9" r="5.25"/><circle cx="252.4" cy="520.9" r="5.25"/><circle cx="256.6" cy="520.9" r="5.25"/><circle cx="260.8" cy="520.9" r="5.25"/><circle cx="265.0" cy="520.9" r="5.25"/><circle cx="269.2" cy="520.9" r="5.25"/><circle cx="290.2" cy="520.9" r="5.25"/><circle cx="208.3" cy="524.6" r="5.25"/><circle cx="212.5" cy="524.6" r="5.25"/><circle cx="216.7" cy="524.6" r="5.25"/><circle cx="220.9" cy="524.6" r="5.25"/><circle cx="225.1" cy="524.6" r="5.25"/><circle cx="237.7" cy="524.6" r="5.25"/><circle cx="241.9" cy="524.6" r="5.25"/><circle cx="258.7" cy="524.6" r="5.25"/><circle cx="262.9" cy="524.6" r="5.25"/><circle cx="267.1" cy="524.6" r="5.25"/><circle cx="271.3" cy="524.6" r="5.25"/><circle cx="275.5" cy="524.6" r="5.25"/><circle cx="283.9" cy="524.6" r="5.25"/><circle cx="288.1" cy="524.6" r="5.25"/><circle cx="330.1" cy="524.6" r="5.25"/><circle cx="202.0" cy="528.2" r="5.25"/><circle cx="206.2" cy="528.2" r="5.25"/><circle cx="210.4" cy="528.2" r="5.25"/><circle cx="214.6" cy="528.2" r="5.25"/><circle cx="218.8" cy="528.2" r="5.25"/><circle cx="223.0" cy="528.2" r="5.25"/><circle cx="227.2" cy="528.2" r="5.25"/><circle cx="235.6" cy="528.2" r="5.25"/><circle cx="239.8" cy="528.2" r="5.25"/><circle cx="260.8" cy="528.2" r="5.25"/><circle cx="265.0" cy="528.2" r="5.25"/><circle cx="269.2" cy="528.2" r="5.25"/><circle cx="273.4" cy="528.2" r="5.25"/><circle cx="277.6" cy="528.2" r="5.25"/><circle cx="281.8" cy="528.2" r="5.25"/><circle cx="286.0" cy="528.2" r="5.25"/><circle cx="290.2" cy="528.2" r="5.25"/><circle cx="307.0" cy="528.2" r="5.25"/><circle cx="328.0" cy="528.2" r="5.25"/><circle cx="195.7" cy="531.9" r="5.25"/><circle cx="199.9" cy="531.9" r="5.25"/><circle cx="212.5" cy="531.9" r="5.25"/><circle cx="216.7" cy="531.9" r="5.25"/><circle cx="220.9" cy="531.9" r="5.25"/><circle cx="225.1" cy="531.9" r="5.25"/><circle cx="229.3" cy="531.9" r="5.25"/><circle cx="233.5" cy="531.9" r="5.25"/><circle cx="237.7" cy="531.9" r="5.25"/><circle cx="241.9" cy="531.9" r="5.25"/><circle cx="262.9" cy="531.9" r="5.25"/><circle cx="279.7" cy="531.9" r="5.25"/><circle cx="283.9" cy="531.9" r="5.25"/><circle cx="288.1" cy="531.9" r="5.25"/><circle cx="309.1" cy="531.9" r="5.25"/><circle cx="313.3" cy="531.9" r="5.25"/><circle cx="325.9" cy="531.9" r="5.25"/><circle cx="189.4" cy="535.5" r="5.25"/><circle cx="193.6" cy="535.5" r="5.25"/><circle cx="197.8" cy="535.5" r="5.25"/><circle cx="214.6" cy="535.5" r="5.25"/><circle cx="218.8" cy="535.5" r="5.25"/><circle cx="223.0" cy="535.5" r="5.25"/><circle cx="227.2" cy="535.5" r="5.25"/><circle cx="231.4" cy="535.5" r="5.25"/><circle cx="235.6" cy="535.5" r="5.25"/><circle cx="239.8" cy="535.5" r="5.25"/><circle cx="260.8" cy="535.5" r="5.25"/><circle cx="265.0" cy="535.5" r="5.25"/><circle cx="281.8" cy="535.5" r="5.25"/><circle cx="311.2" cy="535.5" r="5.25"/><circle cx="315.4" cy="535.5" r="5.25"/><circle cx="183.1" cy="539.1" r="5.25"/><circle cx="187.3" cy="539.1" r="5.25"/><circle cx="191.5" cy="539.1" r="5.25"/><circle cx="195.7" cy="539.1" r="5.25"/><circle cx="241.9" cy="539.1" r="5.25"/><circle cx="246.1" cy="539.1" r="5.25"/><circle cx="254.5" cy="539.1" r="5.25"/><circle cx="309.1" cy="539.1" r="5.25"/><circle cx="176.8" cy="542.8" r="5.25"/><circle cx="181.0" cy="542.8" r="5.25"/><circle cx="185.2" cy="542.8" r="5.25"/><circle cx="189.4" cy="542.8" r="5.25"/><circle cx="193.6" cy="542.8" r="5.25"/><circle cx="197.8" cy="542.8" r="5.25"/><circle cx="202.0" cy="542.8" r="5.25"/><circle cx="206.2" cy="542.8" r="5.25"/><circle cx="244.0" cy="542.8" r="5.25"/><circle cx="248.2" cy="542.8" r="5.25"/><circle cx="170.5" cy="546.4" r="5.25"/><circle cx="174.7" cy="546.4" r="5.25"/><circle cx="178.9" cy="546.4" r="5.25"/><circle cx="183.1" cy="546.4" r="5.25"/><circle cx="187.3" cy="546.4" r="5.25"/><circle cx="191.5" cy="546.4" r="5.25"/><circle cx="195.7" cy="546.4" r="5.25"/><circle cx="204.1" cy="546.4" r="5.25"/><circle cx="208.3" cy="546.4" r="5.25"/><circle cx="164.2" cy="550.0" r="5.25"/><circle cx="168.4" cy="550.0" r="5.25"/><circle cx="172.6" cy="550.0" r="5.25"/><circle cx="185.2" cy="550.0" r="5.25"/><circle cx="189.4" cy="550.0" r="5.25"/><circle cx="206.2" cy="550.0" r="5.25"/><circle cx="210.4" cy="550.0" r="5.25"/><circle cx="157.9" cy="553.7" r="5.25"/><circle cx="162.1" cy="553.7" r="5.25"/><circle cx="166.3" cy="553.7" r="5.25"/><circle cx="170.5" cy="553.7" r="5.25"/><circle cx="151.6" cy="557.3" r="5.25"/><circle cx="142.5" cy="557.1" r="5.25"/><circle cx="146.1" cy="562.0" r="5.25"/><circle cx="153.2" cy="560.8" r="5.25"/><circle cx="160.2" cy="558.4" r="5.25"/><circle cx="167.3" cy="559.7" r="5.25"/><circle cx="173.9" cy="556.2" r="5.25"/><circle cx="179.8" cy="559.1" r="5.25"/><circle cx="186.6" cy="557.4" r="5.25"/><circle cx="192.6" cy="553.1" r="5.25"/><circle cx="199.0" cy="549.1" r="5.25"/><circle cx="204.5" cy="553.3" r="5.25"/><circle cx="210.9" cy="555.8" r="5.25"/><circle cx="216.7" cy="551.3" r="5.25"/><circle cx="226.9" cy="541.4" r="5.25"/><circle cx="234.1" cy="540.0" r="5.25"/><circle cx="238.3" cy="544.7" r="5.25"/><circle cx="239.0" cy="551.2" r="5.25"/><circle cx="245.4" cy="547.7" r="5.25"/><circle cx="252.0" cy="544.8" r="5.25"/><circle cx="258.4" cy="541.1" r="5.25"/><circle cx="265.3" cy="539.9" r="5.25"/><circle cx="265.2" cy="546.8" r="5.25"/><circle cx="271.4" cy="549.2" r="5.25"/><circle cx="277.5" cy="544.9" r="5.25"/><circle cx="283.2" cy="540.2" r="5.25"/><circle cx="288.7" cy="535.3" r="5.25"/><circle cx="296.0" cy="533.7" r="5.25"/><circle cx="303.2" cy="533.0" r="5.25"/><circle cx="304.0" cy="540.0" r="5.25"/><circle cx="304.0" cy="546.2" r="5.25"/><circle cx="310.5" cy="543.4" r="5.25"/><circle cx="316.5" cy="539.5" r="5.25"/><circle cx="323.4" cy="536.9" r="5.25"/><circle cx="330.0" cy="533.4" r="5.25"/><circle cx="333.1" cy="526.9" r="5.25"/><circle cx="334.7" cy="519.6" r="5.25"/><circle cx="337.1" cy="512.5" r="5.25"/><circle cx="339.8" cy="505.6" r="5.25"/><circle cx="366.3" cy="496.7" r="5.25"/><circle cx="373.8" cy="496.2" r="5.25"/><circle cx="381.3" cy="495.8" r="5.25"/><circle cx="396.2" cy="496.6" r="5.25"/><circle cx="418.7" cy="495.8" r="5.25"/><circle cx="433.7" cy="494.7" r="5.25"/><circle cx="441.1" cy="494.1" r="5.25"/><circle cx="442.7" cy="488.1" r="5.25"/><circle cx="442.7" cy="473.1" r="5.25"/><circle cx="442.7" cy="465.6" r="5.25"/><circle cx="442.7" cy="458.1" r="5.25"/><circle cx="442.7" cy="450.6" r="5.25"/><circle cx="442.7" cy="443.1" r="5.25"/><circle cx="442.7" cy="435.6" r="5.25"/><circle cx="442.7" cy="428.1" r="5.25"/><circle cx="442.7" cy="420.6" r="5.25"/><circle cx="442.7" cy="413.1" r="5.25"/><circle cx="442.7" cy="405.6" r="5.25"/><circle cx="442.7" cy="398.1" r="5.25"/><circle cx="437.6" cy="399.6" r="5.25"/><circle cx="432.5" cy="404.5" r="5.25"/><circle cx="426.4" cy="408.8" r="5.25"/><circle cx="419.2" cy="410.6" r="5.25"/><circle cx="412.4" cy="412.9" r="5.25"/><circle cx="406.4" cy="417.2" r="5.25"/><circle cx="399.1" cy="418.8" r="5.25"/><circle cx="392.3" cy="421.4" r="5.25"/><circle cx="386.3" cy="425.7" r="5.25"/><circle cx="380.8" cy="430.7" r="5.25"/><circle cx="373.5" cy="431.0" r="5.25"/><circle cx="366.5" cy="433.9" r="5.25"/><circle cx="360.0" cy="437.5" r="5.25"/><circle cx="353.3" cy="440.9" r="5.25"/><circle cx="346.3" cy="443.5" r="5.25"/><circle cx="339.9" cy="447.5" r="5.25"/><circle cx="333.8" cy="451.8" r="5.25"/><circle cx="327.4" cy="455.6" r="5.25"/><circle cx="321.1" cy="459.6" r="5.25"/><circle cx="314.4" cy="461.8" r="5.25"/><circle cx="307.0" cy="462.5" r="5.25"/><circle cx="300.9" cy="466.9" r="5.25"/><circle cx="295.3" cy="471.9" r="5.25"/><circle cx="288.6" cy="475.1" r="5.25"/><circle cx="282.3" cy="479.2" r="5.25"/><circle cx="275.1" cy="480.7" r="5.25"/><circle cx="268.3" cy="483.8" r="5.25"/><circle cx="262.0" cy="487.9" r="5.25"/><circle cx="255.6" cy="491.7" r="5.25"/><circle cx="249.2" cy="495.5" r="5.25"/><circle cx="242.2" cy="498.0" r="5.25"/><circle cx="235.6" cy="500.9" r="5.25"/><circle cx="230.7" cy="506.5" r="5.25"/><circle cx="224.7" cy="511.0" r="5.25"/><circle cx="218.3" cy="514.9" r="5.25"/><circle cx="211.6" cy="518.3" r="5.25"/><circle cx="204.9" cy="521.6" r="5.25"/><circle cx="198.3" cy="525.2" r="5.25"/><circle cx="191.9" cy="529.1" r="5.25"/><circle cx="185.4" cy="532.9" r="5.25"/><circle cx="178.9" cy="536.7" r="5.25"/><circle cx="172.3" cy="540.2" r="5.25"/><circle cx="165.6" cy="543.5" r="5.25"/><circle cx="159.4" cy="547.8" r="5.25"/><circle cx="153.4" cy="552.3" r="5.25"/><circle cx="232.9" cy="553.2" r="5.25"/><circle cx="343.7" cy="540.2" r="5.25"/><circle cx="350.5" cy="537.4" r="5.25"/><circle cx="356.9" cy="535.2" r="5.25"/><circle cx="358.3" cy="530.1" r="5.25"/><circle cx="365.1" cy="527.0" r="5.25"/><circle cx="371.1" cy="525.6" r="5.25"/><circle cx="376.5" cy="524.2" r="5.25"/><circle cx="383.8" cy="522.4" r="5.25"/><circle cx="384.3" cy="515.1" r="5.25"/><circle cx="388.9" cy="536.5" r="5.25"/><circle cx="394.3" cy="532.4" r="5.25"/><circle cx="398.9" cy="527.9" r="5.25"/><circle cx="406.2" cy="528.8" r="5.25"/><circle cx="412.6" cy="525.1" r="5.25"/><circle cx="415.3" cy="520.6" r="5.25"/><circle cx="416.7" cy="515.1" r="5.25"/><circle cx="420.8" cy="511.0" r="5.25"/><circle cx="431.8" cy="514.2" r="5.25"/><circle cx="435.4" cy="531.5" r="5.25"/><circle cx="440.0" cy="526.0" r="5.25"/><circle cx="340.5" cy="503.2" r="5.25"/><circle cx="345.0" cy="507.8" r="5.25"/><circle cx="348.7" cy="501.8" r="5.25"/><circle cx="355.1" cy="500.0" r="5.25"/><circle cx="362.4" cy="506.0" r="5.25"/><circle cx="366.0" cy="506.9" r="5.25"/><circle cx="356.0" cy="516.9" r="5.25"/><circle cx="361.5" cy="516.0" r="5.25"/><circle cx="345.0" cy="522.4" r="5.25"/><circle cx="339.6" cy="519.6" r="5.25"/><circle cx="335.9" cy="526.0" r="5.25"/><circle cx="369.7" cy="495.9" r="5.25"/><circle cx="377.9" cy="497.7" r="5.25"/><circle cx="379.7" cy="505.0" r="5.25"/><circle cx="389.8" cy="495.0" r="5.25"/><circle cx="393.4" cy="507.8" r="5.25"/><circle cx="398.9" cy="503.2" r="5.25"/><circle cx="402.5" cy="510.5" r="5.25"/><circle cx="408.0" cy="506.0" r="5.25"/><circle cx="415.3" cy="497.7" r="5.25"/><circle cx="422.6" cy="500.5" r="5.25"/><circle cx="430.8" cy="498.7" r="5.25"/><circle cx="436.3" cy="495.9" r="5.25"/><circle cx="441.8" cy="503.2" r="5.25"/><circle cx="441.8" cy="510.5" r="5.25"/></g>
</g>
<text><tspan x="66.56" y="43.40" font-size="37">3.0</tspan></text>
<text><tspan x="66.56" y="117.75" font-size="37">2.5</tspan></text>
<text><tspan x="66.56" y="192.09" font-size="37">2.0</tspan></text>
<text><tspan x="66.56" y="266.44" font-size="37">1.5</tspan></text><g fill="#fff"><rect x="68.37" y="261.56" width="7.39" height="6.87"/><rect x="79.25" y="261.56" width="7.10" height="6.87"/></g>
<text><tspan x="66.56" y="340.79" font-size="37">1.0</tspan></text><g fill="#fff"><rect x="68.37" y="335.91" width="7.39" height="6.87"/><rect x="79.25" y="335.91" width="7.10" height="6.87"/></g>
<text><tspan x="66.56" y="415.13" font-size="37">0.5</tspan></text>
<text><tspan x="66.56" y="489.48" font-size="37">0.0</tspan></text>
<text><tspan x="54.24" y="563.83" font-size="37">-0.5</tspan></text>
<text><tspan x="518.56" y="43.40" font-size="37">3.0</tspan></text>
<text><tspan x="518.56" y="117.75" font-size="37">2.5</tspan></text>
<text><tspan x="518.56" y="192.09" font-size="37">2.0</tspan></text>
<text><tspan x="518.56" y="266.44" font-size="37">1.5</tspan></text><g fill="#fff"><rect x="520.37" y="261.56" width="7.39" height="6.87"/><rect x="531.25" y="261.56" width="7.10" height="6.87"/></g>
<text><tspan x="518.56" y="340.79" font-size="37">1.0</tspan></text><g fill="#fff"><rect x="520.37" y="335.91" width="7.39" height="6.87"/><rect x="531.25" y="335.91" width="7.10" height="6.87"/></g>
<text><tspan x="518.56" y="415.13" font-size="37">0.5</tspan></text>
<text><tspan x="518.56" y="489.48" font-size="37">0.0</tspan></text>
<text><tspan x="506.24" y="563.83" font-size="37">-0.5</tspan></text>
<text><tspan x="972.26" y="43.40" font-size="37">0.4</tspan></text>
<text><tspan x="972.26" y="182.80" font-size="37">0.3</tspan></text>
<text><tspan x="972.26" y="322.20" font-size="37">0.2</tspan></text>
<text><tspan x="972.26" y="461.60" font-size="37">0.1</tspan></text><g fill="#fff"><rect x="1004.93" y="456.72" width="7.39" height="6.87"/><rect x="1015.80" y="456.72" width="7.10" height="6.87"/></g>
<text><tspan x="972.26" y="601.00" font-size="37">0.0</tspan></text>
<text><tspan x="129.21" y="640.50" font-size="37">0</tspan></text>
<text><tspan x="179.62" y="640.50" font-size="37">10</tspan></text><g fill="#fff"><rect x="181.43" y="635.62" width="7.39" height="6.87"/><rect x="192.30" y="635.62" width="7.10" height="6.87"/></g>
<text><tspan x="240.32" y="640.50" font-size="37">20</tspan></text>
<text><tspan x="301.02" y="640.50" font-size="37">30</tspan></text>
<text><tspan x="361.72" y="640.50" font-size="37">40</tspan></text>
<text><tspan x="422.42" y="640.50" font-size="37">50</tspan></text>
<text><tspan x="558.74" y="647.00" font-size="37">10</tspan><tspan x="599.90" y="631.00" font-size="25.5">14</tspan></text><g fill="#fff"><rect x="560.55" y="642.12" width="7.39" height="6.87"/><rect x="571.42" y="642.12" width="7.10" height="6.87"/><rect x="601.14" y="627.64" width="5.09" height="4.73"/><rect x="608.64" y="627.64" width="4.89" height="4.73"/></g>
<text><tspan x="679.94" y="647.00" font-size="37">10</tspan><tspan x="721.10" y="631.00" font-size="25.5">16</tspan></text><g fill="#fff"><rect x="681.75" y="642.12" width="7.39" height="6.87"/><rect x="692.62" y="642.12" width="7.10" height="6.87"/><rect x="722.34" y="627.64" width="5.09" height="4.73"/><rect x="729.84" y="627.64" width="4.89" height="4.73"/></g>
<text><tspan x="801.14" y="647.00" font-size="37">10</tspan><tspan x="842.30" y="631.00" font-size="25.5">18</tspan></text><g fill="#fff"><rect x="802.95" y="642.12" width="7.39" height="6.87"/><rect x="813.82" y="642.12" width="7.10" height="6.87"/><rect x="843.54" y="627.64" width="5.09" height="4.73"/><rect x="851.04" y="627.64" width="4.89" height="4.73"/></g>
<text><tspan x="1012.44" y="647.00" font-size="37">10</tspan><tspan x="1053.60" y="631.00" font-size="25.5">14</tspan></text><g fill="#fff"><rect x="1014.25" y="642.12" width="7.39" height="6.87"/><rect x="1025.12" y="642.12" width="7.10" height="6.87"/><rect x="1054.84" y="627.64" width="5.09" height="4.73"/><rect x="1062.34" y="627.64" width="4.89" height="4.73"/></g>
<text><tspan x="1133.64" y="647.00" font-size="37">10</tspan><tspan x="1174.80" y="631.00" font-size="25.5">16</tspan></text><g fill="#fff"><rect x="1135.45" y="642.12" width="7.39" height="6.87"/><rect x="1146.32" y="642.12" width="7.10" height="6.87"/><rect x="1176.04" y="627.64" width="5.09" height="4.73"/><rect x="1183.54" y="627.64" width="4.89" height="4.73"/></g>
<text><tspan x="1254.84" y="647.00" font-size="37">10</tspan><tspan x="1296.00" y="631.00" font-size="25.5">18</tspan></text><g fill="#fff"><rect x="1256.65" y="642.12" width="7.39" height="6.87"/><rect x="1267.52" y="642.12" width="7.10" height="6.87"/><rect x="1297.24" y="627.64" width="5.09" height="4.73"/><rect x="1304.74" y="627.64" width="4.89" height="4.73"/></g>
<text><tspan x="0.00" y="37.50" font-size="44.5">(a)</tspan></text>
<text><tspan x="455.00" y="37.50" font-size="44.5">(b)</tspan></text>
<text><tspan x="911.00" y="37.50" font-size="44.5">(c)</tspan></text>
<text><tspan x="133.30" y="700.50" font-size="43.5">|E - E</tspan><tspan x="241.29" y="710.50" font-size="30">edge</tspan><tspan x="308.02" y="700.50" font-size="43.5">| (meV)</tspan></text>
<text><tspan x="661.00" y="702.00" font-size="43.5">n</tspan><tspan x="685.19" y="712.00" font-size="30">c</tspan><tspan x="700.19" y="702.00" font-size="43.5"> (cm</tspan><tspan x="784.75" y="683.00" font-size="30">-3</tspan><tspan x="811.42" y="702.00" font-size="43.5">)</tspan></text>
<text><tspan x="1113.80" y="702.00" font-size="43.5">n</tspan><tspan x="1137.99" y="712.00" font-size="30">c</tspan><tspan x="1152.99" y="702.00" font-size="43.5"> (cm</tspan><tspan x="1237.55" y="683.00" font-size="30">-3</tspan><tspan x="1264.22" y="702.00" font-size="43.5">)</tspan></text>
<text transform="rotate(-90)"><tspan x="-452.31" y="37.40" font-size="43.5">g</tspan><tspan x="-428.12" y="47.40" font-size="30">k</tspan><tspan x="-413.12" y="37.40" font-size="43.5"> @ B // [110]</tspan></text><g fill="#fff" transform="rotate(-90)"><rect x="-253.23" y="31.67" width="8.69" height="8.07"/><rect x="-240.44" y="31.67" width="8.35" height="8.07"/><rect x="-229.03" y="31.67" width="8.69" height="8.07"/><rect x="-216.25" y="31.67" width="8.35" height="8.07"/></g>
<text transform="rotate(-90)"><tspan x="-431.53" y="495.50" font-size="43.5">g</tspan><tspan x="-407.34" y="477.50" font-size="30">Ω</tspan><tspan x="-384.91" y="495.50" font-size="43.5"> = Ω / μ</tspan><tspan x="-241.50" y="506.50" font-size="30">B</tspan><tspan x="-221.49" y="495.50" font-size="43.5">B</tspan></text>
<text transform="rotate(-90)"><tspan x="-337.00" y="956.20" font-size="47">Δ</tspan></text>
<text transform="rotate(-90)"><tspan x="-309.70" y="956.20" font-size="43.5">g</tspan></text>
<path d="M4.1 448.9C0.2 445.5 0.2 443.5 3.2 439.8S6.6 433.6 3.1 430.6" stroke="#000" stroke-width="3.1" fill="none"/>
<path d="M921.8 306.8C917.8 303.5 917.8 301.3 920.6 297.8S923.9 291.7 919.8 288.8" stroke="#000" stroke-width="3.1" fill="none"/>
<rect x="197" y="275.8" width="9.2" height="9.2" fill="#515151"/>
<circle cx="201.6" cy="333.9" r="5.2" fill="#f24141"/>
<text><tspan x="262.00" y="295.50" font-size="44">Elec.</tspan></text>
<text><tspan x="262.00" y="348.30" font-size="44">Hole</tspan></text>
<text fill="#1a6fdf"><tspan x="160.50" y="413.30" font-size="43.5">n=10</tspan><tspan x="258.48" y="394.30" font-size="29">18</tspan><tspan x="290.74" y="413.30" font-size="43.5">cm</tspan><tspan x="348.72" y="394.30" font-size="29">-3</tspan></text><g fill="#fff"><rect x="212.22" y="407.57" width="8.69" height="8.07"/><rect x="225.01" y="407.57" width="8.35" height="8.07"/><rect x="259.90" y="390.48" width="5.79" height="5.38"/><rect x="268.42" y="390.48" width="5.56" height="5.38"/></g>
<path d="M620.3 279.8H717.7" stroke="#515151" stroke-width="4.4" stroke-linecap="round"/>
<rect x="659.75" y="270.35" width="18.5" height="18.5" fill="#515151"/>
<path d="M620.3 333.1H717.7" stroke="#f24141" stroke-width="4.4" stroke-linecap="round"/>
<circle cx="669" cy="333" r="10.3" fill="#f24141"/>
<text><tspan x="729.00" y="294.50" font-size="44">Elec.</tspan></text>
<text><tspan x="729.00" y="348.00" font-size="44">Hole</tspan></text>
<path d="M1070.6999999999998 279.8H1168.1" stroke="#515151" stroke-width="4.4" stroke-linecap="round"/>
<rect x="1110.15" y="270.35" width="18.5" height="18.5" fill="#515151"/>
<path d="M1070.6999999999998 333.1H1168.1" stroke="#f24141" stroke-width="4.4" stroke-linecap="round"/>
<circle cx="1119.4" cy="333" r="10.3" fill="#f24141"/>
<text><tspan x="1179.40" y="294.50" font-size="44">Elec.</tspan></text>
<text><tspan x="1179.40" y="348.00" font-size="44">Hole</tspan></text>
<path d="M580.00 32.40H592.50 M895.50 32.40H883.00 M580.00 106.75H592.50 M895.50 106.75H883.00 M580.00 181.09H592.50 M895.50 181.09H883.00 M580.00 255.44H592.50 M895.50 255.44H883.00 M580.00 329.79H592.50 M895.50 329.79H883.00 M580.00 404.13H592.50 M895.50 404.13H883.00 M580.00 478.48H592.50 M895.50 478.48H883.00 M580.00 552.83H592.50 M895.50 552.83H883.00 M586.10 69.57H592.50 M895.50 69.57H888.80 M586.10 143.92H592.50 M895.50 143.92H888.80 M586.10 218.27H592.50 M895.50 218.27H888.80 M586.10 292.61H592.50 M895.50 292.61H888.80 M586.10 366.96H592.50 M895.50 366.96H888.80 M586.10 441.31H592.50 M895.50 441.31H888.80 M586.10 515.65H592.50 M895.50 515.65H888.80 M586.10 590.00H592.50 M895.50 590.00H888.80 M592.50 602.50V590.00 M592.50 32.40V44.90 M653.10 602.50V590.00 M653.10 32.40V44.90 M713.70 602.50V590.00 M713.70 32.40V44.90 M774.30 602.50V590.00 M774.30 32.40V44.90 M834.90 602.50V590.00 M834.90 32.40V44.90 M895.50 602.50V590.00 M895.50 32.40V44.90 M610.74 596.40V590.00 M610.74 32.40V39.10 M621.41 596.40V590.00 M621.41 32.40V39.10 M628.98 596.40V590.00 M628.98 32.40V39.10 M634.86 596.40V590.00 M634.86 32.40V39.10 M639.66 596.40V590.00 M639.66 32.40V39.10 M643.71 596.40V590.00 M643.71 32.40V39.10 M647.23 596.40V590.00 M647.23 32.40V39.10 M650.33 596.40V590.00 M650.33 32.40V39.10 M671.34 596.40V590.00 M671.34 32.40V39.10 M682.01 596.40V590.00 M682.01 32.40V39.10 M689.58 596.40V590.00 M689.58 32.40V39.10 M695.46 596.40V590.00 M695.46 32.40V39.10 M700.26 596.40V590.00 M700.26 32.40V39.10 M704.31 596.40V590.00 M704.31 32.40V39.10 M707.83 596.40V590.00 M707.83 32.40V39.10 M710.93 596.40V590.00 M710.93 32.40V39.10 M731.94 596.40V590.00 M731.94 32.40V39.10 M742.61 596.40V590.00 M742.61 32.40V39.10 M750.18 596.40V590.00 M750.18 32.40V39.10 M756.06 596.40V590.00 M756.06 32.40V39.10 M760.86 596.40V590.00 M760.86 32.40V39.10 M764.91 596.40V590.00 M764.91 32.40V39.10 M768.43 596.40V590.00 M768.43 32.40V39.10 M771.53 596.40V590.00 M771.53 32.40V39.10 M792.54 596.40V590.00 M792.54 32.40V39.10 M803.21 596.40V590.00 M803.21 32.40V39.10 M810.78 596.40V590.00 M810.78 32.40V39.10 M816.66 596.40V590.00 M816.66 32.40V39.10 M821.46 596.40V590.00 M821.46 32.40V39.10 M825.51 596.40V590.00 M825.51 32.40V39.10 M829.03 596.40V590.00 M829.03 32.40V39.10 M832.13 596.40V590.00 M832.13 32.40V39.10 M853.14 596.40V590.00 M853.14 32.40V39.10 M863.81 596.40V590.00 M863.81 32.40V39.10 M871.38 596.40V590.00 M871.38 32.40V39.10 M877.26 596.40V590.00 M877.26 32.40V39.10 M882.06 596.40V590.00 M882.06 32.40V39.10 M886.11 596.40V590.00 M886.11 32.40V39.10 M889.63 596.40V590.00 M889.63 32.40V39.10 M892.73 596.40V590.00 M892.73 32.40V39.10" stroke="#000" stroke-width="3" fill="none"/>
<rect x="592.50" y="32.40" width="303.00" height="557.60" stroke="#000" stroke-width="3" fill="none"/>
<g clip-path="url(#cb)">
<path d="M592.50 48.76 L653.10 49.50 L713.70 49.50 L774.30 65.11 L834.90 103.03 L877.26 162.21 L895.50 238.49" stroke="#515151" stroke-width="4.4" fill="none" stroke-linejoin="round"/>
<rect x="583.25" y="39.51" width="18.5" height="18.5" fill="#515151"/>
<rect x="643.85" y="40.25" width="18.5" height="18.5" fill="#515151"/>
<rect x="704.45" y="40.25" width="18.5" height="18.5" fill="#515151"/>
<rect x="765.05" y="55.86" width="18.5" height="18.5" fill="#515151"/>
<rect x="825.65" y="93.78" width="18.5" height="18.5" fill="#515151"/>
<rect x="868.01" y="152.96" width="18.5" height="18.5" fill="#515151"/>
<rect x="886.25" y="229.24" width="18.5" height="18.5" fill="#515151"/>
</g>
<g clip-path="url(#cb)">
<path d="M592.50 560.41 L653.10 558.77 L713.70 558.03 L774.30 551.34 L834.90 520.71 L877.26 454.39 L886.11 423.31 L895.50 398.19" stroke="#f24141" stroke-width="4.4" fill="none" stroke-linejoin="round"/>
<circle cx="592.50" cy="560.41" r="10.3" fill="#f24141"/>
<circle cx="653.10" cy="558.77" r="10.3" fill="#f24141"/>
<circle cx="713.70" cy="558.03" r="10.3" fill="#f24141"/>
<circle cx="774.30" cy="551.34" r="10.3" fill="#f24141"/>
<circle cx="834.90" cy="520.71" r="10.3" fill="#f24141"/>
<circle cx="877.26" cy="454.39" r="10.3" fill="#f24141"/>
<circle cx="886.11" cy="423.31" r="10.3" fill="#f24141"/>
<circle cx="895.50" cy="398.19" r="10.3" fill="#f24141"/>
</g>
<path d="M1033.70 32.40H1046.20 M1349.20 32.40H1336.70 M1033.70 171.80H1046.20 M1349.20 171.80H1336.70 M1033.70 311.20H1046.20 M1349.20 311.20H1336.70 M1033.70 450.60H1046.20 M1349.20 450.60H1336.70 M1033.70 590.00H1046.20 M1349.20 590.00H1336.70 M1039.80 102.10H1046.20 M1349.20 102.10H1342.50 M1039.80 241.50H1046.20 M1349.20 241.50H1342.50 M1039.80 380.90H1046.20 M1349.20 380.90H1342.50 M1039.80 520.30H1046.20 M1349.20 520.30H1342.50 M1046.20 602.50V590.00 M1046.20 32.40V44.90 M1106.80 602.50V590.00 M1106.80 32.40V44.90 M1167.40 602.50V590.00 M1167.40 32.40V44.90 M1228.00 602.50V590.00 M1228.00 32.40V44.90 M1288.60 602.50V590.00 M1288.60 32.40V44.90 M1349.20 602.50V590.00 M1349.20 32.40V44.90 M1064.44 596.40V590.00 M1064.44 32.40V39.10 M1075.11 596.40V590.00 M1075.11 32.40V39.10 M1082.68 596.40V590.00 M1082.68 32.40V39.10 M1088.56 596.40V590.00 M1088.56 32.40V39.10 M1093.36 596.40V590.00 M1093.36 32.40V39.10 M1097.41 596.40V590.00 M1097.41 32.40V39.10 M1100.93 596.40V590.00 M1100.93 32.40V39.10 M1104.03 596.40V590.00 M1104.03 32.40V39.10 M1125.04 596.40V590.00 M1125.04 32.40V39.10 M1135.71 596.40V590.00 M1135.71 32.40V39.10 M1143.28 596.40V590.00 M1143.28 32.40V39.10 M1149.16 596.40V590.00 M1149.16 32.40V39.10 M1153.96 596.40V590.00 M1153.96 32.40V39.10 M1158.01 596.40V590.00 M1158.01 32.40V39.10 M1161.53 596.40V590.00 M1161.53 32.40V39.10 M1164.63 596.40V590.00 M1164.63 32.40V39.10 M1185.64 596.40V590.00 M1185.64 32.40V39.10 M1196.31 596.40V590.00 M1196.31 32.40V39.10 M1203.88 596.40V590.00 M1203.88 32.40V39.10 M1209.76 596.40V590.00 M1209.76 32.40V39.10 M1214.56 596.40V590.00 M1214.56 32.40V39.10 M1218.61 596.40V590.00 M1218.61 32.40V39.10 M1222.13 596.40V590.00 M1222.13 32.40V39.10 M1225.23 596.40V590.00 M1225.23 32.40V39.10 M1246.24 596.40V590.00 M1246.24 32.40V39.10 M1256.91 596.40V590.00 M1256.91 32.40V39.10 M1264.48 596.40V590.00 M1264.48 32.40V39.10 M1270.36 596.40V590.00 M1270.36 32.40V39.10 M1275.16 596.40V590.00 M1275.16 32.40V39.10 M1279.21 596.40V590.00 M1279.21 32.40V39.10 M1282.73 596.40V590.00 M1282.73 32.40V39.10 M1285.83 596.40V590.00 M1285.83 32.40V39.10 M1306.84 596.40V590.00 M1306.84 32.40V39.10 M1317.51 596.40V590.00 M1317.51 32.40V39.10 M1325.08 596.40V590.00 M1325.08 32.40V39.10 M1330.96 596.40V590.00 M1330.96 32.40V39.10 M1335.76 596.40V590.00 M1335.76 32.40V39.10 M1339.81 596.40V590.00 M1339.81 32.40V39.10 M1343.33 596.40V590.00 M1343.33 32.40V39.10 M1346.43 596.40V590.00 M1346.43 32.40V39.10" stroke="#000" stroke-width="3" fill="none"/>
<rect x="1046.20" y="32.40" width="303.00" height="557.60" stroke="#000" stroke-width="3" fill="none"/>
<g clip-path="url(#cc)">
<path d="M1046.20 559.33 L1106.80 559.33 L1167.40 556.54 L1228.00 539.82 L1288.60 448.51 L1330.96 199.68 L1349.20 106.28" stroke="#515151" stroke-width="4.4" fill="none" stroke-linejoin="round"/>
<rect x="1036.95" y="550.08" width="18.5" height="18.5" fill="#515151"/>
<rect x="1097.55" y="550.08" width="18.5" height="18.5" fill="#515151"/>
<rect x="1158.15" y="547.29" width="18.5" height="18.5" fill="#515151"/>
<rect x="1218.75" y="530.57" width="18.5" height="18.5" fill="#515151"/>
<rect x="1279.35" y="439.26" width="18.5" height="18.5" fill="#515151"/>
<rect x="1321.71" y="190.43" width="18.5" height="18.5" fill="#515151"/>
<rect x="1339.95" y="97.03" width="18.5" height="18.5" fill="#515151"/>
</g>
<g clip-path="url(#cc)">
<path d="M1046.20 562.12 L1106.80 562.12 L1167.40 559.33 L1228.00 538.42 L1288.60 458.69 L1330.96 231.74 L1349.20 175.98" stroke="#f24141" stroke-width="4.4" fill="none" stroke-linejoin="round"/>
<circle cx="1046.20" cy="562.12" r="10.3" fill="#f24141"/>
<circle cx="1106.80" cy="562.12" r="10.3" fill="#f24141"/>
<circle cx="1167.40" cy="559.33" r="10.3" fill="#f24141"/>
<circle cx="1228.00" cy="538.42" r="10.3" fill="#f24141"/>
<circle cx="1288.60" cy="458.69" r="10.3" fill="#f24141"/>
<circle cx="1330.96" cy="231.74" r="10.3" fill="#f24141"/>
<circle cx="1349.20" cy="175.98" r="10.3" fill="#f24141"/>
</g>
</svg></body></html>
